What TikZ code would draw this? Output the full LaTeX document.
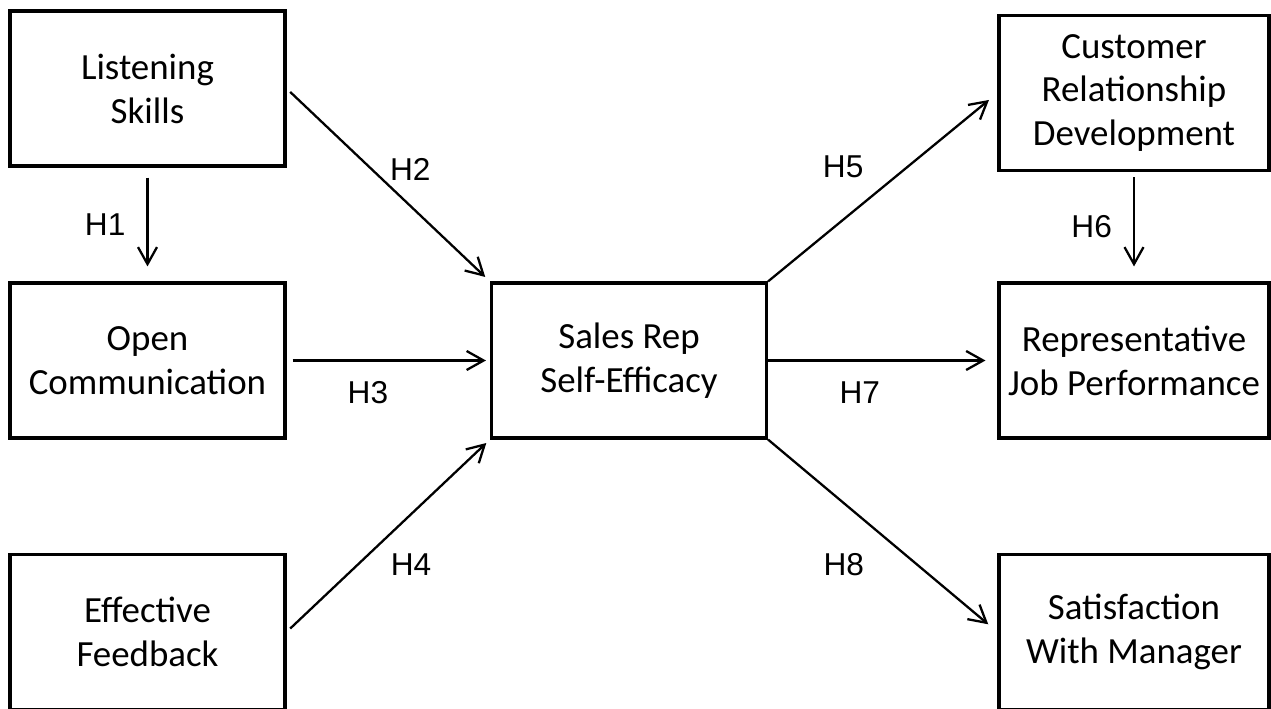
\documentclass[tikz,border=0pt]{standalone}
\usepackage{fontspec}
\setmainfont{Carlito}
\newfontfamily\hfont{Liberation Sans}
\usetikzlibrary{arrows.meta}

\tikzset{
    box/.style={draw, line width=1.8pt, minimum width=5.5cm, minimum height=3.1cm,
        align=center, font=\fontsize{21}{25}\selectfont},
    link/.style={-{Straight Barb[length=3.4mm, width=3.8mm]}, line width=1.3pt},
    hyp/.style={font=\fontsize{18}{20}\selectfont\hfont, inner sep=0pt}
}

\begin{document}
\begin{tikzpicture}[x=0.02cm, y=-0.02cm]
    \useasboundingbox (0,0) rectangle (1271,709);
    \node[box] (listen) at (147.5,88.5) {Listening\\Skills};
    \node[box] (opencomm) at (147.5,360.5) {Open\\Communication};
    \node[box] (feedback) at (147.5,632) {Effective\\Feedback};
    \node[box] (selfeff) at (629,360.5) {Sales Rep\\Self-Efficacy};
    \node[box, minimum width=5.4cm] (custrel) at (1134,93) {Customer\\Relationship\\Development};
    \node[box, minimum width=5.4cm] (jobperf) at (1134,360.5) {Representative\\Job Performance};
    \node[box, minimum width=5.4cm] (satis) at (1134,632) {Satisfaction\\With Manager};

    \draw[link, shorten <=0.2cm, shorten >=0.3cm] (listen) -- node[left=0.42cm, hyp] {H1} (opencomm);
    \draw[link, shorten <=0.1cm, shorten >=0.13cm] (listen.east) -- node[pos=0.42, right=0.34cm, hyp] {H2} (selfeff.north west);
    \draw[link, shorten <=0.12cm, shorten >=0.08cm] (opencomm) -- node[pos=0.4, below=0.4cm, hyp] {H3} (selfeff);
    \draw[link, shorten <=0.1cm, shorten >=0.1cm] (feedback.east) -- node[pos=0.35, right=0.64cm, hyp] {H4} (selfeff.south west);
    \draw[link, shorten >=0.22cm] (selfeff.north east) -- node[pos=0.61, left=0.87cm, hyp] {H5} (custrel.west);
    \draw[link, shorten <=0.1cm, shorten >=0.3cm] (custrel) -- node[left=0.42cm, hyp] {H6} (jobperf);
    \draw[link, shorten >=0.24cm] (selfeff) -- node[pos=0.4, below=0.4cm, hyp] {H7} (jobperf);
    \draw[link, shorten >=0.24cm] (selfeff.south east) -- node[pos=0.65, left=1.04cm, hyp] {H8} (satis.west);
\end{tikzpicture}
\end{document}
